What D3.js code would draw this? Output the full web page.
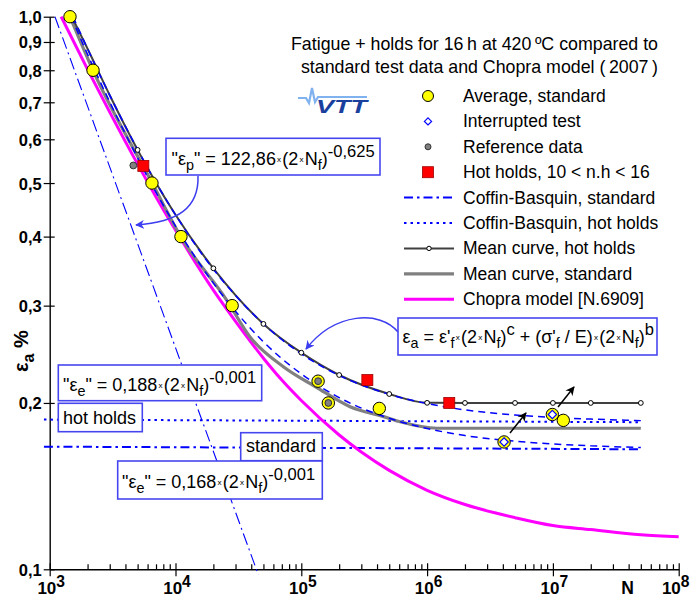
<!DOCTYPE html>
<html><head><meta charset="utf-8">
<script src="https://cdn.jsdelivr.net/npm/d3@7"></script>
<style>
html,body{margin:0;padding:0;background:#fff;}
svg{display:block;font-family:Arial,"Liberation Sans",sans-serif;}
text{white-space:pre;}
</style></head><body>
<svg id="chart" width="690" height="598"></svg>
<script>
// ---- data (N = cycles, eps = strain amplitude %) ----
const xTickExps = [3, 4, 5, 6, 7, 8];
const yTickValues = [0.1, 0.2, 0.3, 0.4, 0.5, 0.6, 0.7, 0.8, 0.9, 1.0];
const yTickLabels = ["0,1", "0,2", "0,3", "0,4", "0,5", "0,6", "0,7", "0,8", "0,9", "1,0"];

const avgStdN   = [1450, 2210, 6500, 11050, 28200, 136000, 164000, 417000, 1.21e7, 9.9e6, 4.09e6];
const avgStdEps = [1.0, 0.80, 0.50, 0.40, 0.30, 0.219, 0.200, 0.1955, 0.186, 0.1906, 0.170];
const interruptedN   = [9.9e6, 4.09e6];
const interruptedEps = [0.1906, 0.170];
const referenceN   = [4620, 136000, 164000];
const referenceEps = [0.538, 0.219, 0.200];
const hotHoldsN   = [5550, 335000, 1.5e6];
const hotHoldsEps = [0.537, 0.220, 0.200];

const cbStdN   = [1476, 2000, 3000, 5000, 7000, 1e4, 2e4, 3e4, 5e4, 1e5, 2e5, 5e5, 1e6, 2e6, 5e6, 1e7, 2e7, 5e7];
const cbStdEps = [1.0, 0.855, 0.701, 0.555, 0.481, 0.418, 0.3295, 0.293, 0.258, 0.2257, 0.2045, 0.1876, 0.1798, 0.1746, 0.1705, 0.1686, 0.1673, 0.1661];
const cbHotN   = [1533, 2000, 3000, 5000, 7000, 1e4, 2e4, 3e4, 5e4, 1e5, 2e5, 5e5, 1e6, 2e6, 5e6, 1e7, 2e7, 5e7];
const cbHotEps = [1.0, 0.875, 0.721, 0.575, 0.501, 0.438, 0.349, 0.313, 0.278, 0.2454, 0.2243, 0.2073, 0.1995, 0.1943, 0.1902, 0.1883, 0.1870, 0.1858];
const plasticN   = [1101, 1e4, 45600];
const plasticEps = [1.0, 0.2518, 0.0977];
const elasticN      = [900, 5e7];
const elasticStdEps = [0.1667, 0.1649];
const elasticHotEps = [0.1866, 0.1846];

const hotMeanN   = [1500, 2000, 3000, 5000, 1e4, 2e4, 5e4, 1e5, 2e5, 5e5, 1e6, 2e6, 5e6, 1e7, 2e7, 5e7];
const hotMeanEps = [1.0, 0.875, 0.721, 0.574, 0.438, 0.3505, 0.278, 0.2466, 0.2247, 0.2076, 0.2001, 0.2, 0.2, 0.2, 0.2, 0.2];
const hotMeanMarkerN = [5000, 2e4, 5e4, 1e5, 2e5, 5e5, 1e6, 2e6, 5e6, 1e7, 2e7, 5e7];

const stdMeanN   = [1450, 2200, 6500, 11000, 25500, 39000, 72000, 132000, 244000, 450000, 610000, 1.2e6, 5e7];
const stdMeanEps = [1.0, 0.801, 0.501, 0.400, 0.307, 0.2636, 0.2326, 0.2135, 0.1969, 0.1889, 0.1849, 0.1800, 0.1800];

const chopraN   = [1234, 2000, 3000, 5000, 7000, 1e4, 2e4, 3e4, 5e4, 7e4, 1e5, 2e5, 3e5, 5e5, 1e6, 2e6, 5e6, 1e7, 2e7, 5e7, 1e8];
const chopraEps = [1.0, 0.803, 0.672, 0.541, 0.472, 0.411, 0.320, 0.281, 0.241, 0.220, 0.202, 0.175, 0.163, 0.151, 0.139, 0.131, 0.124, 0.120, 0.118, 0.1155, 0.1145];

const legendLabels = ["Average, standard", "Interrupted test", "Reference data", "Hot holds, 10 < n.h < 16",
  "Coffin-Basquin, standard", "Coffin-Basquin, hot holds", "Mean curve, hot holds", "Mean curve, standard", "Chopra model [N.6909]"];
const titleLines = ["Fatigue + holds for 16\u2009h at 420\u2009ºC compared to", "standard test data and Chopra model (\u20092007\u2009)"];

// ---- setup ----
const svg = d3.select("#chart");
const x = d3.scaleLog().domain([1e3, 1e8]).range([49.7, 678.7]);
const y = d3.scaleLog().domain([0.1, 1]).range([569.3, 16.7]);
const zip = (a, b) => a.map((v, i) => [v, b[i]]);
const line = d3.line().x(d => x(d[0])).y(d => y(d[1])).curve(d3.curveMonotoneX);
const straight = d3.line().x(d => x(d[0])).y(d => y(d[1]));

const BLUE = "#0000ff", BOX = "#4646f0", MAG = "#ff00ff", DARK = "#404040", GREY = "#808080";

const defs = svg.append("defs");
function arrowMarker(id, color) {
  defs.append("marker").attr("id", id).attr("viewBox", "0 0 10 10").attr("refX", 9).attr("refY", 5)
    .attr("markerWidth", 9).attr("markerHeight", 9).attr("markerUnits", "userSpaceOnUse").attr("orient", "auto")
    .append("path").attr("d", "M0,0 L10,5 L0,10 L3,5 Z").attr("fill", color);
}
arrowMarker("arrBlue", "#3c3cf0");
arrowMarker("arrBlack", "#000");

// text with sub/superscripts and small multiplication signs
function rich(sel, px, py, parts, size, opts = {}) {
  const t = sel.append("text").attr("x", px).attr("y", py).attr("font-size", size)
    .attr("font-weight", opts.weight || "normal").attr("text-anchor", opts.anchor || "start").attr("fill", "#000");
  let off = 0, pad = 0;
  parts.forEach(([s, k]) => {
    let target = 0, fs = size, gap = pad;
    if (k === "sub") { target = size * 0.3; fs = size * 0.8; }
    else if (k === "sup") { target = -size * 0.45; fs = size * 0.92; }
    else if (k === "tiny") { target = -size * 0.18; fs = size * 0.45; gap = 1.2; }
    const ts = t.append("tspan").attr("dy", (target - off).toFixed(2)).attr("font-size", fs).text(s);
    if (gap) ts.attr("dx", gap);
    pad = k === "tiny" ? 1.2 : 0;
    off = target;
  });
  return t;
}

// ---- axes ----
const minorX = [];
for (let e = 3; e < 8; e++) for (let m = 2; m <= 9; m++) minorX.push(m * Math.pow(10, e));
const majorX = xTickExps.map(e => Math.pow(10, e));

const gxMinor = svg.append("g").attr("transform", `translate(0,${y(0.1)})`)
  .call(d3.axisBottom(x).tickValues(minorX).tickSize(-5).tickFormat("").tickSizeOuter(0));
gxMinor.select(".domain").remove();
const gxMajor = svg.append("g").attr("transform", `translate(0,${y(0.1)})`)
  .call(d3.axisBottom(x).tickValues(majorX).tickSize(7).tickFormat("").tickSizeOuter(0));
gxMajor.selectAll(".tick line").attr("y1", -6);
gxMajor.selectAll(".tick").each(function (d, i) {
  const last = i === xTickExps.length - 1;
  rich(d3.select(this), last ? 689 - x(d) : 1, 25, [["10", "n"], [String(xTickExps[i]), "sup"]], 17,
    { weight: "bold", anchor: last ? "end" : "middle" });
});
svg.append("text").attr("x", 627.5).attr("y", 594).attr("font-size", 17.5).attr("font-weight", "bold")
  .attr("text-anchor", "middle").text("N");

const gy = svg.append("g").attr("transform", `translate(${x(1e3)},0)`)
  .call(d3.axisLeft(y).tickValues(yTickValues).tickSize(6).tickPadding(2).tickSizeOuter(0)
    .tickFormat((d, i) => yTickLabels[i]));
gy.selectAll(".tick line").attr("x1", 5);
gy.selectAll(".tick text").attr("font-size", 16.5).attr("font-weight", "bold").attr("font-family", null)
  .attr("dy", "0.36em");
[gxMinor, gxMajor, gy].forEach(g => {
  g.selectAll("line").attr("stroke", "#000").attr("stroke-width", 1.2);
  g.selectAll(".domain").attr("stroke", "#000").attr("stroke-width", 1.4);
  g.attr("font-family", null);
});

// y axis title
const yl = rich(svg, 0, 0, [["ε", "n"], ["a", "sub"], [" %", "n"]], 20, { weight: "bold", anchor: "middle" });
yl.attr("transform", "translate(28,351) rotate(-90)");

// ---- title & logo ----
titleLines.forEach((s, i) => {
  svg.append("text").attr("x", 658).attr("y", 50 + i * 23).attr("font-size", 17.8).attr("text-anchor", "end").text(s);
});
svg.append("polyline").attr("points", "298,98 306,98 309,103 312,88 315,102 318,97 367,97")
  .attr("fill", "none").attr("stroke", "#7fb2ee").attr("stroke-width", 2.2);
svg.append("text").attr("x", 316).attr("y", 113).attr("font-size", 19).attr("font-weight", "900")
  .attr("font-style", "italic").attr("fill", "#1b3f9c").attr("textLength", 51).attr("lengthAdjust", "spacingAndGlyphs").text("VTT");

// ---- curves ----
const curves = svg.append("g").attr("fill", "none");
curves.append("path").attr("d", straight(zip(elasticN, elasticStdEps)))
  .attr("stroke", BLUE).attr("stroke-width", 2).attr("stroke-dasharray", "9,4,2.5,4");
curves.append("path").attr("d", straight(zip(elasticN, elasticHotEps)))
  .attr("stroke", BLUE).attr("stroke-width", 2).attr("stroke-dasharray", "2.5,4");
curves.append("path").attr("d", straight(zip(plasticN, plasticEps)))
  .attr("stroke", BLUE).attr("stroke-width", 1.1).attr("stroke-dasharray", "12,4,2,4");
curves.append("path").attr("d", line(zip(chopraN, chopraEps))).attr("stroke", MAG).attr("stroke-width", 3);
curves.append("path").attr("d", line(zip(stdMeanN, stdMeanEps))).attr("stroke", GREY).attr("stroke-width", 3.2);
curves.append("path").attr("d", line(zip(hotMeanN, hotMeanEps))).attr("stroke", DARK).attr("stroke-width", 2);
curves.append("path").attr("d", line(zip(cbStdN, cbStdEps)))
  .attr("stroke", BLUE).attr("stroke-width", 1.5).attr("stroke-dasharray", "7,5");
curves.append("path").attr("d", line(zip(cbHotN, cbHotEps)))
  .attr("stroke", BLUE).attr("stroke-width", 1.5).attr("stroke-dasharray", "7,5");

// markers on hot-hold mean curve
svg.append("g").selectAll("circle").data(hotMeanMarkerN).join("circle")
  .attr("cx", d => x(d)).attr("cy", d => y(hotMeanEps[hotMeanN.indexOf(d)])).attr("r", 2.4)
  .attr("fill", "#fff").attr("stroke", "#000").attr("stroke-width", 1);

// ---- data points ----
const pts = svg.append("g");
pts.selectAll(".avg").data(zip(avgStdN, avgStdEps)).join("circle").attr("class", "avg")
  .attr("cx", d => x(d[0])).attr("cy", d => y(d[1])).attr("r", 6.2)
  .attr("fill", "#ffff00").attr("stroke", "#000").attr("stroke-width", 1);
pts.selectAll(".ref").data(zip(referenceN, referenceEps)).join("circle").attr("class", "ref")
  .attr("cx", d => x(d[0])).attr("cy", d => y(d[1])).attr("r", 3.4)
  .attr("fill", "#808080").attr("stroke", "#333").attr("stroke-width", 1);
const diamond = (cx, cy, r) => `M${cx},${cy - r}L${cx + r},${cy}L${cx},${cy + r}L${cx - r},${cy}Z`;
pts.selectAll(".int").data(zip(interruptedN, interruptedEps)).join("path").attr("class", "int")
  .attr("d", d => diamond(x(d[0]), y(d[1]), 4.2))
  .attr("fill", "#fff").attr("stroke", BLUE).attr("stroke-width", 1.2);
pts.selectAll(".hot").data(zip(hotHoldsN, hotHoldsEps)).join("rect").attr("class", "hot")
  .attr("x", d => x(d[0]) - 5.5).attr("y", d => y(d[1]) - 5.5).attr("width", 11).attr("height", 11)
  .attr("fill", "#ff0000").attr("stroke", "#a00000").attr("stroke-width", 0.8);

// ---- legend ----
const lg = svg.append("g");
const lgX = 428, lgTextX = 463, lgY0 = 96, lgDY = 25.4;
legendLabels.forEach((s, i) => {
  lg.append("text").attr("x", lgTextX).attr("y", lgY0 + i * lgDY + 6).attr("font-size", 17.5).text(s);
});
const ly = i => lgY0 + i * lgDY;
lg.append("circle").attr("cx", lgX).attr("cy", ly(0)).attr("r", 5.5).attr("fill", "#ffff00").attr("stroke", "#000");
lg.append("path").attr("d", diamond(lgX, ly(1), 3.6)).attr("fill", "#fff").attr("stroke", BLUE).attr("stroke-width", 1.2);
lg.append("circle").attr("cx", lgX).attr("cy", ly(2)).attr("r", 3).attr("fill", "#808080").attr("stroke", "#333");
lg.append("rect").attr("x", lgX - 5.5).attr("y", ly(3) - 5.5).attr("width", 11).attr("height", 11)
  .attr("fill", "#ff0000").attr("stroke", "#a00000").attr("stroke-width", 0.8);
const legLine = (i, color, w, dash) => lg.append("line").attr("x1", 404).attr("x2", 454).attr("y1", ly(i)).attr("y2", ly(i))
  .attr("stroke", color).attr("stroke-width", w).attr("stroke-dasharray", dash);
legLine(4, BLUE, 2, "9,4,2.5,4");
legLine(5, BLUE, 2, "2.5,4");
legLine(6, DARK, 2, null);
lg.append("circle").attr("cx", 429).attr("cy", ly(6)).attr("r", 2.2).attr("fill", "#fff").attr("stroke", "#000");
legLine(7, GREY, 3.2, null);
legLine(8, MAG, 3, null);

// ---- annotations ----
const ann = svg.append("g");
function box(x0, y0, x1, y1) {
  ann.append("rect").attr("x", x0).attr("y", y0).attr("width", x1 - x0).attr("height", y1 - y0)
    .attr("fill", "#fff").attr("stroke", BOX).attr("stroke-width", 1.6);
}
// curved pointers
ann.append("path").attr("d", "M198,176 C199,208 178,222 136,225").attr("fill", "none")
  .attr("stroke", "#3c3cf0").attr("stroke-width", 1.5).attr("marker-end", "url(#arrBlue)");
ann.append("path").attr("d", "M398,332 C380,310 335,312 306,349").attr("fill", "none")
  .attr("stroke", "#3c3cf0").attr("stroke-width", 1.5).attr("marker-end", "url(#arrBlue)");
ann.append("line").attr("x1", 510).attr("y1", 433).attr("x2", 526).attr("y2", 413)
  .attr("stroke", "#000").attr("stroke-width", 1.5).attr("marker-end", "url(#arrBlack)");
ann.append("line").attr("x1", 558).attr("y1", 407).attr("x2", 574).attr("y2", 387)
  .attr("stroke", "#000").attr("stroke-width", 1.5).attr("marker-end", "url(#arrBlack)");

const FS = 18;
box(166, 138.3, 380, 175);
rich(ann, 171.5, 165, [['"ε', "n"], ["p", "sub"], ['" = 122,86', "n"], ["x", "tiny"], ["(2", "n"], ["x", "tiny"],
  ["N", "n"], ["f", "sub"], [")", "n"], ["-0,625", "sup"]], FS);

box(398, 318, 657, 355);
rich(ann, 402.5, 343, [["ε", "n"], ["a", "sub"], [" = ε'", "n"], ["f", "sub"], ["x", "tiny"], ["(2", "n"], ["x", "tiny"],
  ["N", "n"], ["f", "sub"], [")", "n"], ["c", "sup"], [" + (σ'", "n"], ["f", "sub"], [" / E)", "n"], ["x", "tiny"],
  ["(2", "n"], ["x", "tiny"], ["N", "n"], ["f", "sub"], [")", "n"], ["b", "sup"]], FS);

box(58.3, 365, 261.7, 400.7);
rich(ann, 63, 391, [['"ε', "n"], ["e", "sub"], ['" = 0,188', "n"], ["x", "tiny"], ["(2", "n"], ["x", "tiny"],
  ["N", "n"], ["f", "sub"], [")", "n"], ["-0,001", "sup"]], FS);

box(58.3, 403.3, 142.3, 431.7);
ann.append("text").attr("x", 63).attr("y", 424).attr("font-size", 18).text("hot holds");

box(240.7, 432.7, 322.3, 460.7);
ann.append("text").attr("x", 246).attr("y", 452).attr("font-size", 18).text("standard");

box(117.7, 461, 322.3, 499);
rich(ann, 122, 488, [['"ε', "n"], ["e", "sub"], ['" = 0,168', "n"], ["x", "tiny"], ["(2", "n"], ["x", "tiny"],
  ["N", "n"], ["f", "sub"], [")", "n"], ["-0,001", "sup"]], FS);
</script></body></html>
